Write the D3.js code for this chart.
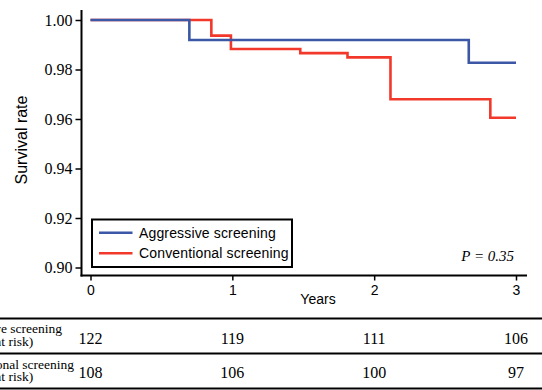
<!DOCTYPE html>
<html><head><meta charset="utf-8">
<script src="https://cdn.jsdelivr.net/npm/d3@7"></script>
<style>html,body{margin:0;padding:0;background:#fff;}svg{display:block;}</style>
</head><body>
<svg id="c" width="542" height="390"></svg>
<script>
const aggTimes = [0, 0.697, 2.667, 3.0];
const aggSurv  = [1.0, 0.9919, 0.9827, 0.9827];
const convTimes = [0, 0.852, 0.99, 1.479, 1.812, 2.115, 2.819, 3.0];
const convSurv  = [1.0, 0.9937, 0.9883, 0.9866, 0.9849, 0.9680, 0.9605, 0.9605];
const yTicks = [0.90, 0.92, 0.94, 0.96, 0.98, 1.00];
const xTicks = [0, 1, 2, 3];
const seriesNames = ["Aggressive screening", "Conventional screening"];
const seriesColors = ["#3b57a6", "#f2382b"];
const atRiskAgg = [122, 119, 111, 106];
const atRiskConv = [108, 106, 100, 97];
const rowLabels = [["Aggressive screening", "(number at risk)"], ["Conventional screening", "(number at risk)"]];
const pText = "P = 0.35";

const svg = d3.select("#c");
const x = d3.scaleLinear().domain([0, 3]).range([90.5, 516]);
const y = d3.scaleLinear().domain([0.9, 1.0]).range([267.5, 20]);

svg.append("line").attr("x1", 81.5).attr("x2", 81.5).attr("y1", 10).attr("y2", 276.5).attr("stroke", "#000").attr("stroke-width", 2);
svg.append("line").attr("x1", 80.5).attr("x2", 527).attr("y1", 275.5).attr("y2", 275.5).attr("stroke", "#000").attr("stroke-width", 2);

const yAxis = svg.append("g").attr("transform", "translate(81.5,0)")
  .call(d3.axisLeft(y).tickValues(yTicks).tickFormat(d3.format(".2f")).tickSize(6).tickPadding(3));
yAxis.select(".domain").remove();
yAxis.selectAll("line").attr("stroke-width", 1.5);
yAxis.selectAll("text").attr("font-family", "'Liberation Serif','Times New Roman',serif").attr("font-size", 16).attr("fill", "#000");

const xAxis = svg.append("g").attr("transform", "translate(0,275.5)")
  .call(d3.axisBottom(x).tickValues(xTicks).tickFormat(d3.format("d")).tickSize(5).tickPadding(5));
xAxis.select(".domain").remove();
xAxis.selectAll("line").attr("stroke-width", 1.5);
xAxis.selectAll("text").attr("font-family", "'Liberation Sans',Arial,sans-serif").attr("font-size", 14).attr("fill", "#000");

svg.append("text").attr("x", 318).attr("y", 303.5).attr("text-anchor", "middle")
  .attr("font-family", "'Liberation Sans',Arial,sans-serif").attr("font-size", 14).text("Years");

svg.append("text").attr("transform", "translate(27,140) rotate(-90)").attr("text-anchor", "middle")
  .attr("font-family", "'Liberation Sans',Arial,sans-serif").attr("font-size", 16).text("Survival rate");

const line = d3.line().x(d => x(d[0])).y(d => y(d[1])).curve(d3.curveStepAfter);
const series = [d3.zip(aggTimes, aggSurv), d3.zip(convTimes, convSurv)];
[1, 0].forEach(i => {
  svg.append("path").attr("d", line(series[i])).attr("fill", "none")
    .attr("stroke", seriesColors[i]).attr("stroke-width", 2.6);
});

svg.append("rect").attr("x", 92).attr("y", 219.5).attr("width", 200).attr("height", 47.5)
  .attr("fill", "#fff").attr("stroke", "#000").attr("stroke-width", 2);
seriesNames.forEach((n, i) => {
  const ly = 232.7 + i * 20.6;
  svg.append("line").attr("x1", 99).attr("x2", 132.5).attr("y1", ly).attr("y2", ly)
    .attr("stroke", seriesColors[i]).attr("stroke-width", 2.6);
  svg.append("text").attr("x", 139).attr("y", ly + 5).attr("font-family", "'Liberation Sans',Arial,sans-serif")
    .attr("font-size", 14).attr("letter-spacing", 0.15).text(n);
});

svg.append("text").attr("x", 514).attr("y", 261).attr("text-anchor", "end")
  .attr("font-family", "'Liberation Serif','Times New Roman',serif").attr("font-style", "italic")
  .attr("font-size", 15).text(pText);

[318.5, 353.5, 388.5].forEach(yy => {
  svg.append("line").attr("x1", 0).attr("x2", 542).attr("y1", yy).attr("y2", yy).attr("stroke", "#000").attr("stroke-width", 2);
});
const rows = [atRiskAgg, atRiskConv];
const rowBase = [344, 378];
rows.forEach((r, i) => {
  r.forEach((v, j) => {
    svg.append("text").attr("x", x(xTicks[j])).attr("y", rowBase[i]).attr("text-anchor", "middle")
      .attr("font-family", "'Liberation Serif','Times New Roman',serif").attr("font-size", 16).text(v);
  });
});
const labBase = [[333, 345.5], [368.5, 381]];
const tmp = svg.append("text").attr("font-family", "'Liberation Serif','Times New Roman',serif").attr("font-size", 13.5).text(rowLabels[0][0]);
const w0 = tmp.node().getComputedTextLength();
tmp.remove();
const lx = 62 - w0;
rowLabels.forEach((ls, i) => {
  ls.forEach((t, k) => {
    svg.append("text").attr("x", lx).attr("y", labBase[i][k])
      .attr("font-family", "'Liberation Serif','Times New Roman',serif").attr("font-size", 13.5).text(t);
  });
});
</script>
</body></html>
